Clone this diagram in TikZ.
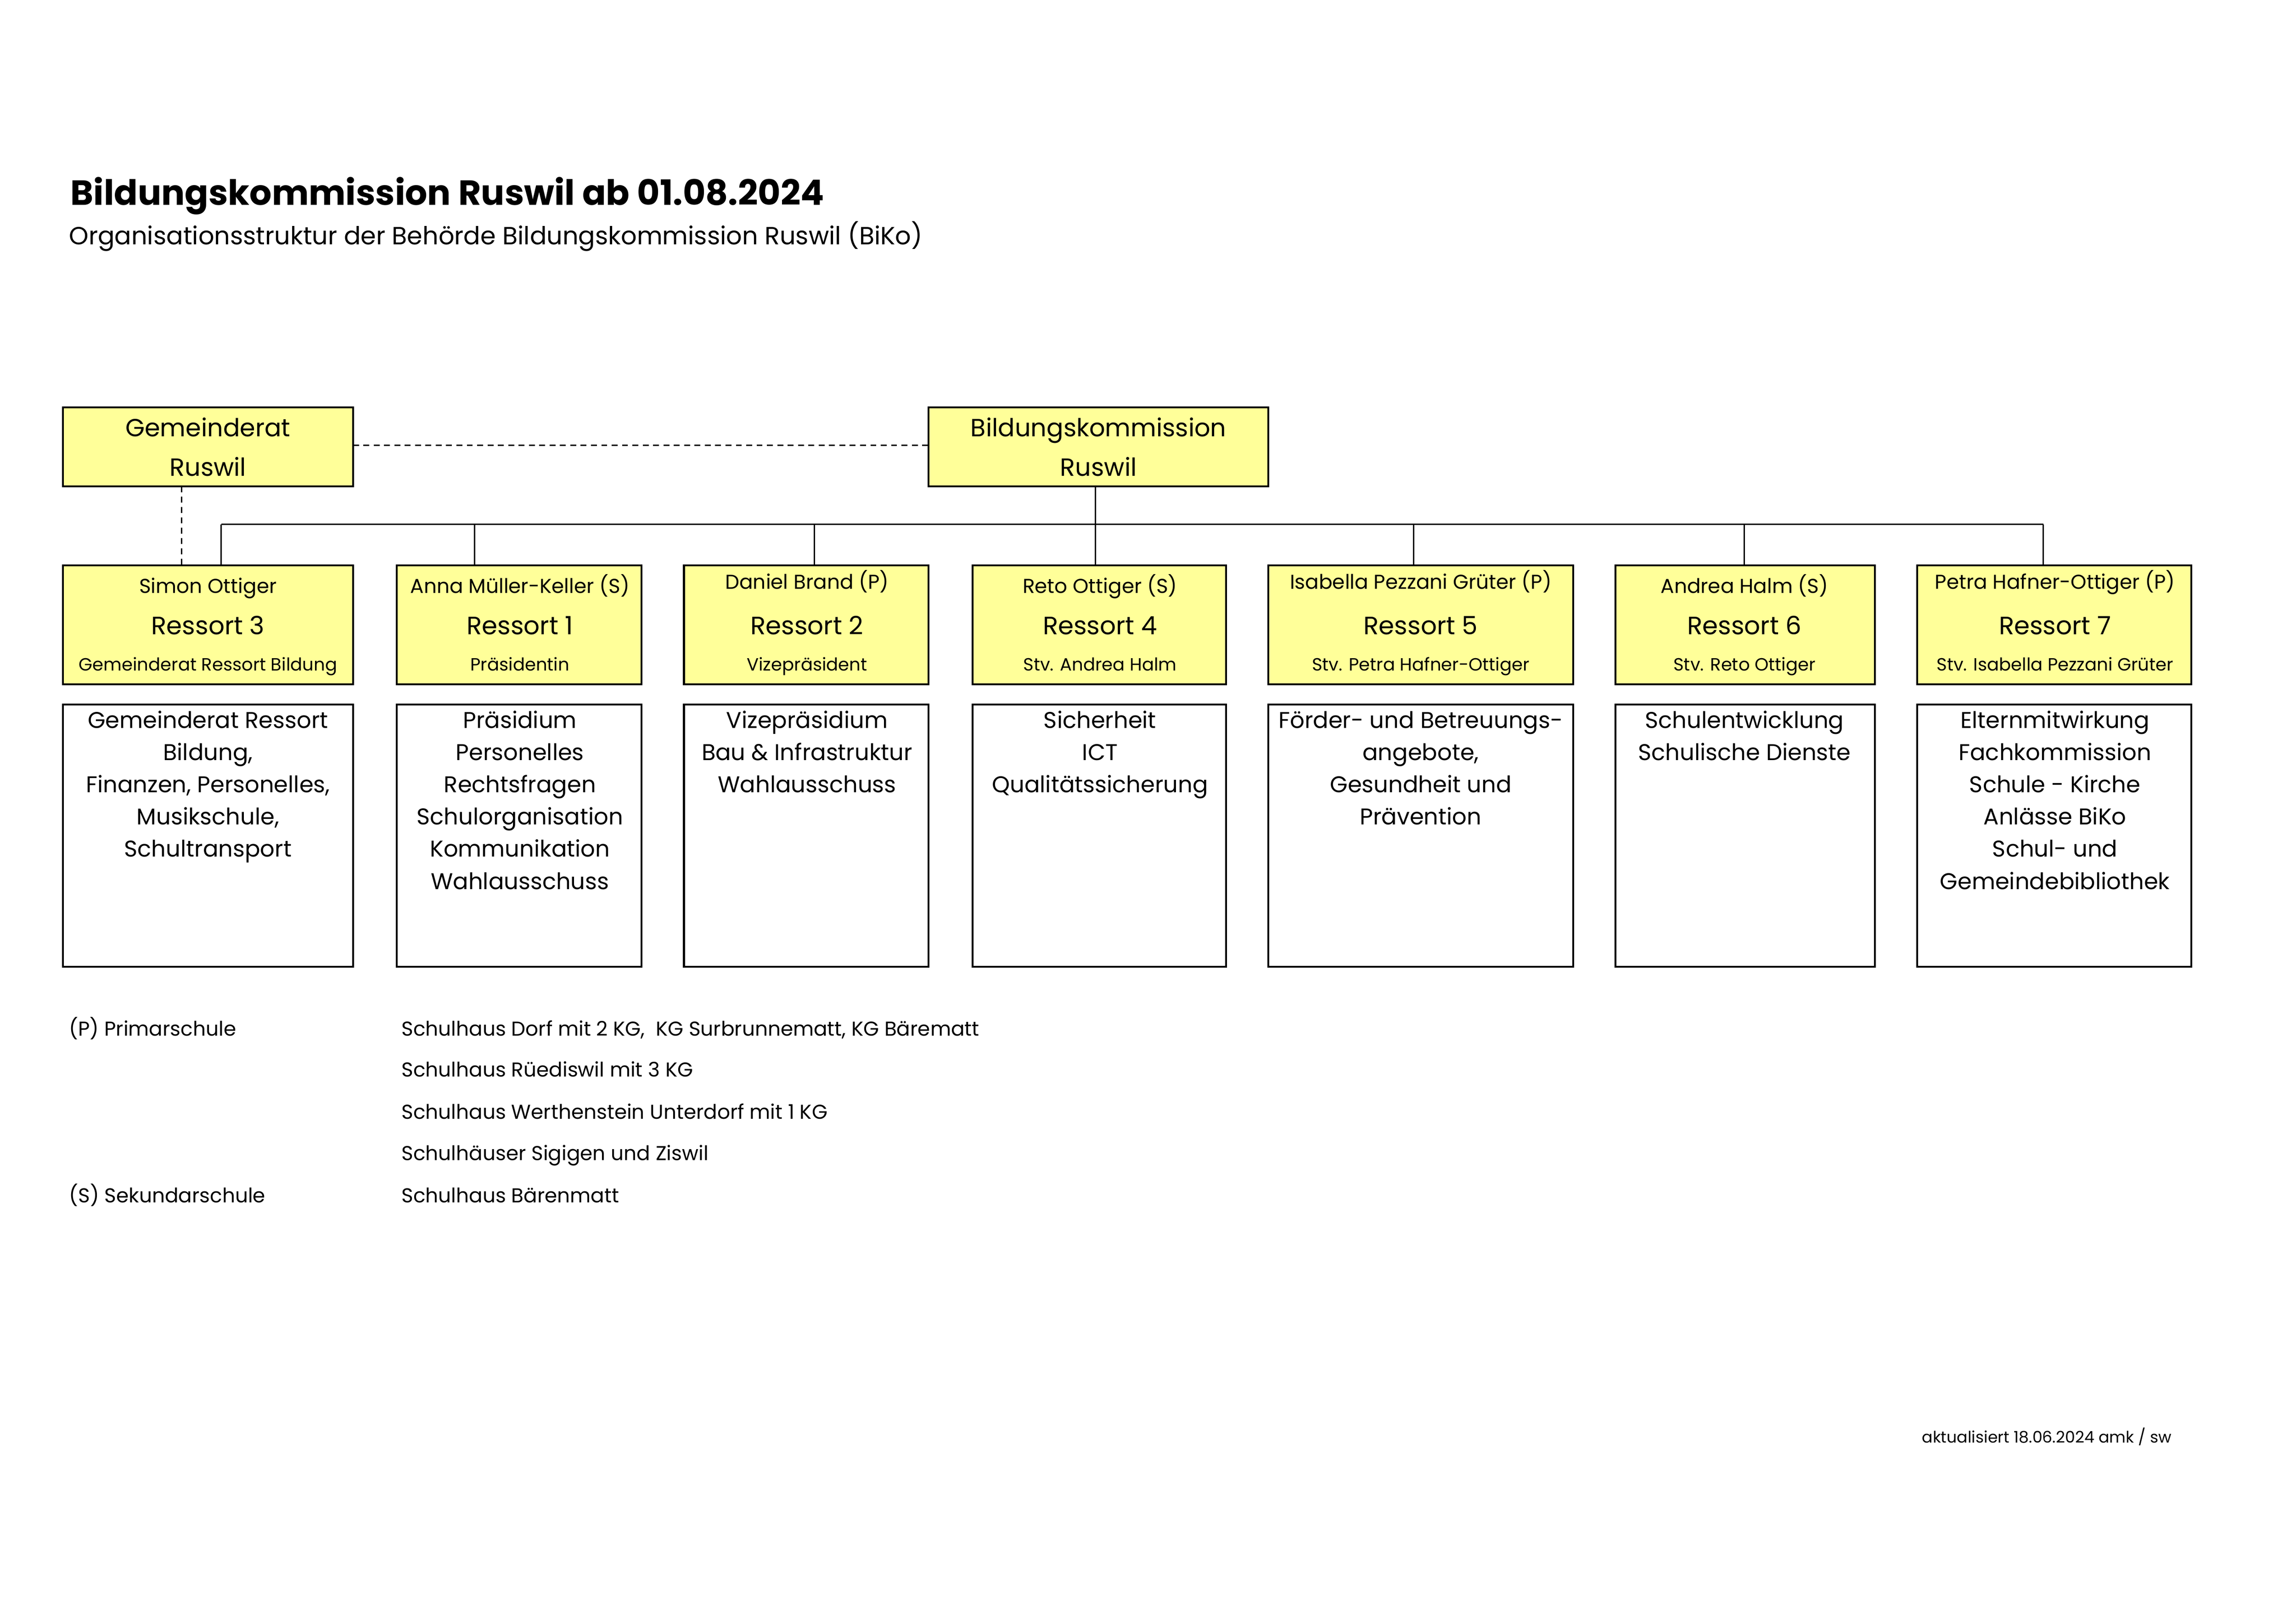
\documentclass[tikz,border=0pt]{standalone}
\usepackage{fontspec}
\setmainfont{Poppins}
\begin{document}
\begin{tikzpicture}[x=1pt,y=-1pt,
  ybox/.style={draw,line width=1.3pt},
  wbox/.style={draw,line width=1.3pt},
  conn/.style={line width=0.9pt},
  dconn/.style={line width=0.9pt,dash pattern=on 4pt off 3pt},
  t/.style={inner sep=0pt,anchor=base},
  foot/.style={inner sep=0pt,anchor=base west,font=\fontsize{13.6}{15}\selectfont}]
\useasboundingbox (0,0) rectangle (1553,1098);
\definecolor{yel}{HTML}{FFFF99}
\begin{scope}[scale=0.9907]
\node[anchor=base west,inner sep=0pt,font=\bfseries\fontsize{23.6}{26}\selectfont] (title) at (48,140) {Bildungskommission Ruswil ab 01.08.2024};
\node[anchor=base west,inner sep=0pt,font=\fontsize{16.8}{19}\selectfont] (sub) at (47,167) {Organisationsstruktur der Behörde Bildungskommission Ruswil (BiKo)};
% top boxes
\draw[ybox,fill=yel] (43,278) rectangle (241,332);
\node[t,font=\fontsize{16.8}{19}\selectfont] (gr1) at (142,298) {Gemeinderat};
\node[t,font=\fontsize{16.8}{19}\selectfont] (gr2) at (142,325) {Ruswil};
\coordinate (grR) at (241,304); \coordinate (grB) at (124,332);
\draw[ybox,fill=yel] (634,278) rectangle (866,332);
\node[t,font=\fontsize{16.8}{19}\selectfont] (bk1) at (750,298) {Bildungskommission};
\node[t,font=\fontsize{16.8}{19}\selectfont] (bk2) at (750,325) {Ruswil};
\coordinate (bkL) at (634,304); \coordinate (bkB) at (748,332);
\draw[dconn] (grR) -- (bkL);
\coordinate (bus) at (748,358);
\draw[conn] (bkB) -- (bus);
\draw[conn] (151,358) -- (1395,358);
% ressort boxes
\foreach \xl/\xr/\cx/\nm/\ny/\rs/\sb [count=\i] in {
 43/241/142/{Simon Ottiger}/405/{Ressort 3}/{Gemeinderat Ressort Bildung},
 271/438/355/{Anna Müller-Keller (S)}/405/{Ressort 1}/{Präsidentin},
 467/634/551/{Daniel Brand (P)}/402/{Ressort 2}/{Vizepräsident},
 664/837/751/{Reto Ottiger (S)}/405/{Ressort 4}/{Stv. Andrea Halm},
 866/1074/970/{Isabella Pezzani Grüter (P)}/402/{Ressort 5}/{Stv. Petra Hafner-Ottiger},
 1103/1280/1191/{Andrea Halm (S)}/405/{Ressort 6}/{Stv. Reto Ottiger},
 1309/1496/1403/{Petra Hafner-Ottiger (P)}/402/{Ressort 7}/{Stv. Isabella Pezzani Grüter}}{
  \draw[ybox,fill=yel] (\xl,386) rectangle (\xr,467);
  \draw[wbox] (\xl,481) rectangle (\xr,660);
  \node[t,font=\fontsize{13.6}{15}\selectfont] (n\i) at (\cx,\ny) {\nm};
  \node[t,font=\fontsize{17}{19}\selectfont] (r\i) at (\cx,433) {\rs};
  \node[t,font=\fontsize{12}{14}\selectfont] (s\i) at (\cx,458) {\sb};
}
\foreach \x in {151,324,556,748,965,1191,1395}{\draw[conn] (\x,358) -- (\x,386);}
\draw[dconn] (grB) -- (124,386);
% white box contents
\foreach \cx/\lines in {
 142/{Gemeinderat Ressort,{Bildung,},{Finanzen, Personelles,},{Musikschule,},Schultransport},
 355/{Präsidium,Personelles,Rechtsfragen,Schulorganisation,Kommunikation,Wahlausschuss},
 551/{Vizepräsidium,Bau \& Infrastruktur,Wahlausschuss},
 751/{Sicherheit,ICT,Qualitätssicherung},
 970/{Förder- und Betreuungs-,{angebote,},Gesundheit und,Prävention},
 1191/{Schulentwicklung,Schulische Dienste},
 1403/{Elternmitwirkung,Fachkommission,Schule - Kirche,Anlässe BiKo,Schul- und,Gemeindebibliothek}}{
  \foreach \l [count=\j] in \lines {\node[t,font=\fontsize{15.4}{17}\selectfont] at (\cx,497+22*\j-22) {\l};}
}
% footnotes
\node[foot] (p) at (47,707) {(P) Primarschule};
\node[foot] (s) at (47,821) {(S) Sekundarschule};
\node[foot] (f1) at (274,707) {Schulhaus Dorf mit 2 KG,\ \ KG Surbrunnematt, KG Bärematt};
\node[foot] (f2) at (274,735) {Schulhaus Rüediswil mit 3 KG};
\node[foot] (f3) at (274,764) {Schulhaus Werthenstein Unterdorf mit 1 KG};
\node[foot] (f4) at (274,792) {Schulhäuser Sigigen und Ziswil};
\node[foot] (f5) at (274,821) {Schulhaus Bärenmatt};
\node[foot,font=\fontsize{10.8}{12}\selectfont] (akt) at (1312,985) {aktualisiert 18.06.2024 amk / sw};
\end{scope}
\end{tikzpicture}
\end{document}
